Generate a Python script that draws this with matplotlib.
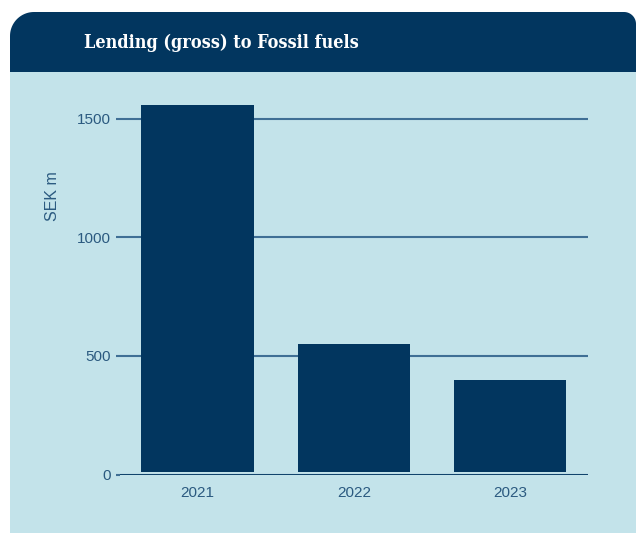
import numpy as np
from matplotlib import pyplot as plt
from matplotlib.path import Path
from matplotlib.patches import PathPatch, Rectangle
from matplotlib.transforms import IdentityTransform

YEARS = ['2021', '2022', '2023']
LENDING = [1557, 550, 400]
"""list: Gross lending to fossil fuels, SEK m."""

Y_TICKS = [0, 500, 1000, 1500]

W, H = 636, 533
NAVY = '#02365f'
PANEL = '#c3e3ea'
GRID = '#3f6f95'
TEXT = '#2b5a80'
BAR_GAP = 10  # bars float slightly above the zero line


def rounded_box(x0, y0, x1, y1, r_left, r_right, n=20):
    """Path in pixel coords (top-left origin) with rounded top corners."""
    pts = [(x0, y1)]
    a = np.linspace(np.pi, np.pi / 2, n)
    pts += [(x0 + r_left + r_left * np.cos(t), y0 + r_left - r_left * np.sin(t)) for t in a]
    a = np.linspace(np.pi / 2, 0, n)
    pts += [(x1 - r_right + r_right * np.cos(t), y0 + r_right - r_right * np.sin(t)) for t in a]
    pts += [(x1, y1), (x0, y1)]
    pts = np.array(pts)
    pts[:, 1] = H - pts[:, 1]
    return Path(pts, closed=True)


fig = plt.figure(figsize=(W / 100, H / 100), dpi=100, facecolor='white')

# light panel and dark header band
fig.patches.append(Rectangle((10, 0), W - 10, H - 72, transform=IdentityTransform(),
                             facecolor=PANEL, edgecolor='none', zorder=-2))
fig.patches.append(PathPatch(rounded_box(10, 12, 636, 72, 24, 12), transform=IdentityTransform(),
                             facecolor=NAVY, edgecolor='none', zorder=-1))
fig.text(84 / W, 1 - 43 / H, 'Lending (gross) to Fossil fuels', color='white',
         fontsize=13, fontweight='bold', fontstretch='condensed', family='DejaVu Serif',
         va='center', ha='left')

ax = fig.add_axes([119.5 / W, 0.1094, (588 - 119.5) / W, 0.7128])
ax.set_zorder(2)
ax.set_facecolor('none')
x = np.arange(len(YEARS))
ax.bar(x, np.array(LENDING) - BAR_GAP, bottom=BAR_GAP, width=0.72, color=NAVY, zorder=3)

ax.set_xlim(-0.5, 2.5)
ax.set_ylim(0, 1600)
ax.set_yticks(Y_TICKS)
ax.set_xticks(x)
ax.set_xticklabels(YEARS)
ax.grid(axis='y', color=GRID, linewidth=1.5, zorder=1)
ax.axhline(0, color=NAVY, linewidth=1.8, zorder=4)
for side in ['left', 'right', 'top', 'bottom']:
    ax.spines[side].set_visible(False)
ax.tick_params(axis='y', length=3, width=1.5, color=GRID, pad=3.5, labelsize=11, labelcolor=TEXT)
ax.tick_params(axis='x', length=0, pad=8, labelsize=11, labelcolor=TEXT)
for lbl in ax.get_xticklabels() + ax.get_yticklabels():
    lbl.set_family('Liberation Sans')

fig.text(52.5 / W, 1 - 196 / H, 'SEK m', rotation=90, color=TEXT, fontsize=11.5,
         family='Liberation Sans', ha='center', va='center')

fig.savefig('out.png', dpi=100, facecolor='white')
